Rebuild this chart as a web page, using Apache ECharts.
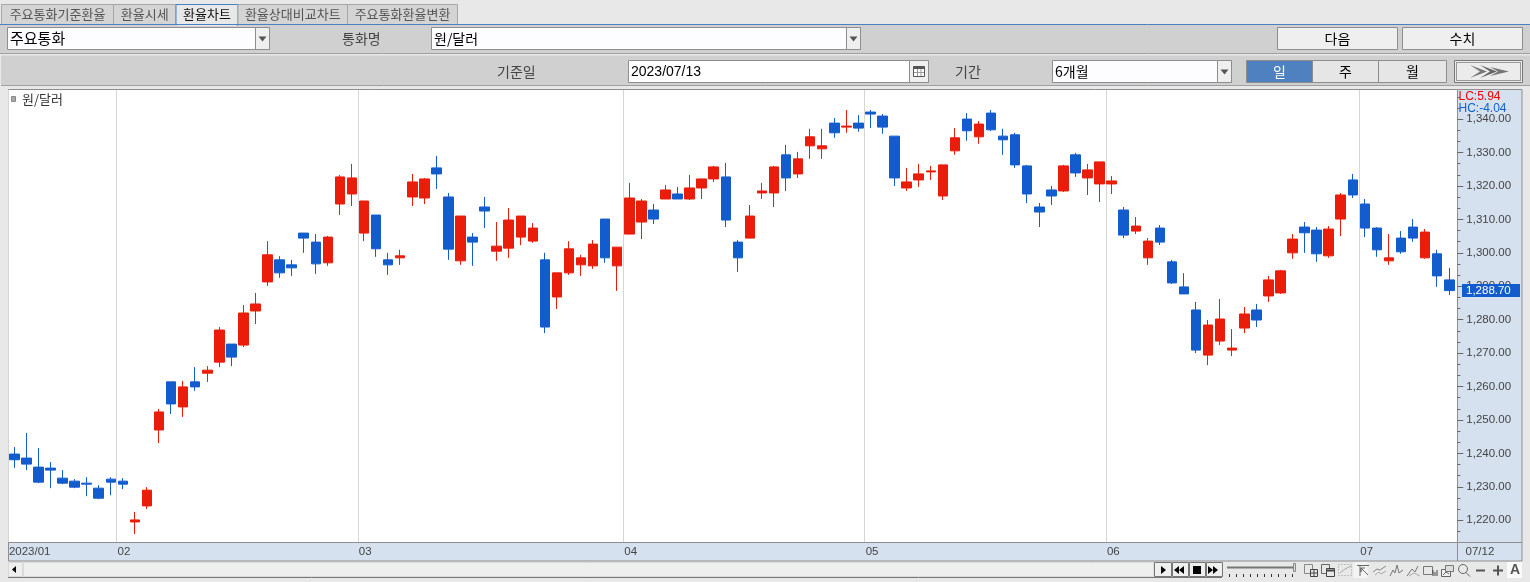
<!DOCTYPE html>
<html>
<head>
<meta charset="utf-8">
<title>환율차트</title>
<style>
html, body { margin: 0; padding: 0; background: #e8e8e8; }
#main { width: 1530px; height: 582px; }
</style>
<script src="https://cdn.jsdelivr.net/npm/echarts@6/dist/echarts.min.js"></script>
</head>
<body>
<div id="main"></div>
<script>
// 원/달러 일봉, values
var opens = [
    1239.8,1238.6,1235.9,1235.6,1232.6,1231.7,1231.1,1229.6,1232.3,1231.7,
    1219.5,1224.3,1247.0,1261.4,1253.9,1261.4,1264.0,1267.3,1272.7,1272.4,
    1282.6,1291.3,1297.9,1296.4,1305.9,1303.2,1297.0,1314.6,1317.6,1305.9,
    1311.3,1297.9,1298.5,1316.7,1316.4,1325.4,1316.7,1297.6,1304.7,1313.7,
    1300.5,1301.4,1304.7,1303.5,1297.9,1286.8,1294.0,1296.4,1296.1,1310.1,
    1296.1,1305.6,1309.2,1312.8,1316.1,1317.6,1316.1,1319.4,1322.1,1322.7,
    1303.2,1304.4,1317.9,1317.9,1329.3,1323.6,1332.0,1331.1,1338.8,1337.6,
    1338.8,1342.1,1340.9,1334.9,1319.4,1321.8,1324.2,1317.0,1330.5,1340.0,
    1334.7,1341.8,1334.9,1335.3,1326.0,1313.7,1318.8,1318.5,1329.3,1322.4,
    1320.6,1320.6,1312.8,1306.5,1298.5,1307.4,1297.3,1289.8,1282.9,1269.4,
    1273.6,1270.9,1277.5,1282.9,1287.1,1288.0,1300.0,1307.7,1306.8,1299.1,
    1310.1,1321.8,1314.6,1307.4,1297.6,1304.4,1307.7,1298.5,1299.7,1291.9
];
var closes = [
    1238.1,1236.8,1231.4,1235.0,1231.1,1229.9,1230.8,1226.6,1231.4,1230.8,
    1220.1,1229.0,1252.4,1254.8,1259.9,1259.9,1264.9,1276.9,1268.8,1282.0,
    1284.7,1299.4,1294.0,1295.5,1304.4,1296.7,1304.7,1322.7,1322.4,1315.5,
    1301.2,1296.4,1299.1,1321.2,1322.1,1323.6,1301.1,1311.0,1303.2,1312.5,
    1302.0,1309.8,1311.0,1307.4,1277.8,1294.0,1301.2,1298.5,1302.6,1298.5,
    1301.7,1316.4,1315.5,1310.1,1318.8,1316.1,1319.4,1322.1,1325.7,1309.8,
    1298.5,1311.0,1318.5,1325.7,1322.4,1328.1,1334.7,1332.0,1335.9,1337.9,
    1337.3,1341.5,1337.6,1322.4,1321.2,1323.6,1324.5,1326.3,1334.4,1336.5,
    1338.5,1336.8,1333.8,1326.3,1317.6,1312.2,1317.0,1326.0,1323.9,1324.8,
    1327.2,1321.5,1305.3,1308.0,1303.5,1303.2,1291.0,1287.7,1270.9,1278.4,
    1280.2,1271.5,1281.7,1279.9,1291.9,1294.6,1304.1,1306.0,1299.7,1307.1,
    1317.3,1317.3,1307.4,1300.9,1298.5,1300.3,1304.4,1306.2,1293.1,1288.7
];
var lows = [
    1235.7,1235.0,1231.1,1229.6,1230.8,1229.6,1227.2,1226.3,1227.5,1229.3,
    1215.9,1223.4,1243.1,1251.8,1250.9,1258.7,1261.4,1265.8,1266.1,1271.8,
    1278.7,1290.1,1292.5,1293.1,1300.0,1293.7,1296.1,1311.3,1314.0,1303.5,
    1298.8,1293.4,1296.4,1314.0,1314.6,1319.1,1297.9,1296.4,1296.1,1307.4,
    1297.6,1298.5,1302.3,1303.0,1276.0,1283.2,1293.4,1293.1,1295.2,1297.0,
    1288.6,1305.6,1304.1,1308.6,1316.1,1316.1,1315.8,1316.1,1321.2,1307.7,
    1294.3,1304.4,1316.1,1313.7,1318.5,1322.4,1328.1,1328.1,1334.4,1335.9,
    1336.2,1337.3,1335.6,1320.0,1318.5,1319.7,1321.8,1315.8,1329.3,1333.5,
    1332.6,1336.4,1329.3,1325.4,1314.9,1307.7,1314.3,1318.2,1322.7,1317.3,
    1315.2,1317.6,1304.4,1305.6,1296.4,1302.3,1290.7,1287.7,1270.0,1266.4,
    1272.4,1269.1,1276.0,1277.8,1285.3,1287.7,1298.2,1300.0,1297.3,1298.5,
    1305.0,1316.4,1304.7,1298.8,1296.4,1299.7,1303.3,1298.2,1289.8,1287.4
];
var highs = [
    1241.9,1246.1,1241.6,1237.4,1235.0,1232.3,1232.9,1230.5,1232.9,1232.6,
    1222.5,1229.9,1253.3,1261.4,1261.7,1265.8,1266.1,1277.8,1272.7,1284.4,
    1288.0,1303.5,1299.0,1297.9,1305.9,1305.6,1305.0,1323.3,1326.6,1315.5,
    1311.3,1300.0,1300.9,1323.6,1322.4,1329.0,1317.9,1311.0,1305.9,1316.7,
    1309.2,1313.4,1311.0,1308.9,1300.0,1294.0,1303.5,1299.4,1303.8,1310.1,
    1301.7,1320.9,1316.1,1314.6,1320.3,1319.7,1323.3,1322.1,1326.0,1326.9,
    1303.8,1314.3,1320.9,1326.0,1332.3,1330.2,1337.1,1337.1,1340.3,1342.7,
    1341.2,1342.7,1341.5,1334.9,1325.4,1326.6,1326.0,1326.3,1337.3,1341.8,
    1339.4,1342.7,1337.1,1335.9,1326.3,1314.9,1320.0,1326.3,1329.9,1326.6,
    1327.2,1323.0,1313.7,1310.7,1304.4,1308.3,1297.9,1293.9,1285.3,1279.9,
    1286.2,1277.2,1283.8,1284.7,1293.1,1294.9,1305.6,1309.2,1307.7,1308.0,
    1317.9,1323.6,1316.1,1307.7,1305.6,1306.5,1310.1,1307.1,1300.9,1295.5
];
var monthStarts = [0, 9, 29, 51, 71, 91, 112];
var monthLabels = ['2023/01', '02', '03', '04', '05', '06', '07'];
var priceTicks = [1220,1230,1240,1250,1260,1270,1280,1290,1300,1310,1320,1330,1340];
var minorTicks = [
    1216.67,1223.33,1226.67,1233.33,1236.67,1243.33,1246.67,1253.33,1256.67,1263.33,1266.67,
    1273.33,1276.67,1283.33,1286.67,1293.33,1296.67,1303.33,1306.67,1313.33,1316.67,1323.33,
    1326.67,1333.33,1336.67,1343.33,1346.67
];
var tabs = ['주요통화기준환율', '환율시세', '환율차트', '환율상대비교차트', '주요통화환율변환'];
var tabEdges = [1, 113, 175.5, 237.5, 347, 457];

var RED = '#ea1c0a', BLUE = '#135ccd', LINE = '#8e8e8e', STRIP = '#d6e1ef', TICK = '#666';
var KR = '"Noto Sans CJK KR", sans-serif';
var NUM = '"Liberation Sans", sans-serif';
var AXIS_MIN = 1213.5, AXIS_MAX = 1348.7;

var candles = opens.map(function (o, i) {
    return [o, closes[i], lows[i], highs[i]];
});

// ---- window chrome helpers ----
var chrome = [];
function rect(x, y, w, h, fill, stroke, z) {
    chrome.push({
        type: 'rect', z: z === undefined ? -5 : z, silent: true,
        shape: { x: x, y: y, width: w, height: h },
        style: { fill: fill || 'transparent', stroke: stroke || null, lineWidth: 1 }
    });
}
function text(x, y, str, color, size, family, align, weight, z) {
    chrome.push({
        type: 'text', z: z === undefined ? -4 : z, silent: true, x: x, y: y,
        style: {
            text: str, fill: color, font: (weight || 'normal') + ' ' + size + 'px ' + (family || KR),
            textAlign: align || 'left', textVerticalAlign: 'middle'
        }
    });
}
function line(points, color, width, dash) {
    chrome.push({
        type: 'polyline', z: -4, silent: true, shape: { points: points },
        style: { stroke: color, lineWidth: width || 1, fill: null, lineDash: dash || null }
    });
}
function poly(points, color) {
    chrome.push({
        type: 'polygon', z: -4, silent: true, shape: { points: points },
        style: { fill: color }
    });
}
function combo(x, x2, btn, y, y2) {
    rect(x, y, x2 - x, y2 - y, '#fdfdff', LINE);
    rect(btn, y, x2 - btn, y2 - y, '#efefef', LINE);
    var c = (btn + x2) / 2, m = (y + y2) / 2;
    poly([[c - 4, m - 2], [c + 4, m - 2], [c, m + 3]], '#555');
}

// background and the two control rows
rect(0, 0, 1530, 582, '#e8e8e8');
rect(0, 25, 1530, 28, '#d0d0d0');
line([[0, 53.5], [1530, 53.5]], '#a0a0a0');
rect(1, 55.5, 1529, 30, '#d0d0d0');
line([[1, 85.5], [1530, 85.5]], '#a0a0a0');

// tabs
line([[0, 24.5], [1530, 24.5]], '#4a80c4');
tabs.forEach(function (t, i) {
    var x = tabEdges[i], x2 = tabEdges[i + 1], on = i === 2;
    rect(x + 0.5, 4.5, x2 - x, on ? 20.5 : 20, on ? '#e8e8e8' : '#d4d4d4', on ? '#4a80c4' : '#a6a6a6');
    text((x + x2) / 2 + 0.5, 14.5, t, on ? '#111' : '#555', 13, KR, 'center');
});
rect(176.5, 24, 60, 2, '#e8e8e8');

// first row
combo(7.5, 269.5, 255.5, 27.5, 49.5);
text(10, 38.5, '주요통화', '#000', 15);
text(342, 38.5, '통화명', '#444', 14);
combo(431.5, 860.5, 846.5, 27.5, 49.5);
text(434, 38.5, '원/달러', '#000', 14);
rect(1277.5, 27.5, 120, 22, '#efefef', LINE);
text(1337.5, 38.5, '다음', '#000', 14, KR, 'center');
rect(1402.5, 27.5, 120, 22, '#efefef', LINE);
text(1462.5, 38.5, '수치', '#000', 14, KR, 'center');

// second row
text(497, 72, '기준일', '#444', 14);
rect(628.5, 60.5, 300, 22, '#fff', LINE);
rect(909.5, 60.5, 19, 22, '#efefef', LINE);
text(631, 72, '2023/07/13', '#000', 14, NUM);
rect(913.5, 66.5, 11, 10, '#fff', '#555');
rect(913.5, 66.5, 11, 2.5, '#555');
line([[917.5, 69], [917.5, 76]], '#999');
line([[921, 69], [921, 76]], '#999');
line([[914, 72.5], [924, 72.5]], '#999');
text(955, 72, '기간', '#444', 14);
combo(1052.5, 1231.5, 1217.5, 60.5, 82.5);
text(1055, 72, '6개월', '#000', 14);
rect(1246.5, 60.5, 66, 22, '#4f81c0', LINE);
rect(1312.5, 60.5, 66, 22, '#e6e6e6', LINE);
rect(1378.5, 60.5, 68, 22, '#e6e6e6', LINE);
text(1279.5, 72, '일', '#fff', 14, KR, 'center');
text(1345.5, 72, '주', '#000', 14, KR, 'center');
text(1412.5, 72, '월', '#000', 14, KR, 'center');
rect(1454.5, 60.5, 68, 22, '#ececec', '#777');
rect(1456.5, 62.5, 64, 18, null, '#444');
chrome[chrome.length - 1].style.lineDash = [1, 1];
poly([[1470, 65], [1487, 71.5], [1470, 78], [1480, 71.5]], '#777');
poly([[1480, 65], [1497, 71.5], [1480, 78], [1490, 71.5]], '#666');
poly([[1490, 67], [1509, 71.5], [1490, 76], [1498, 71.5]], '#777');

// chart frame
rect(8.5, 89.5, 1449, 453, '#fff', LINE);
rect(1457.5, 89.5, 64.5, 453, STRIP, LINE);
rect(8.5, 542.5, 1449, 18.5, STRIP, LINE);
rect(1457.5, 542.5, 64.5, 18.5, STRIP, LINE);
rect(11.5, 96.5, 4, 5, '#a6a6a6', '#8a8a8a', -3);
text(22, 99, '원/달러', '#333', 13, KR, 'left', 'normal', -3);
text(1458.5, 96.5, 'LC:5.94', '#f00000', 12, NUM);
text(1458.5, 109, 'HC:-4.04', '#1060d0', 12, NUM);
text(1465.5, 551.5, '07/12', '#444', 11.5, NUM);

// scrollbar
rect(8.5, 562.5, 14, 14, '#efefef', '#d8d8d8');
poly([[12, 569.5], [16, 566], [16, 573]], '#000');
rect(23.5, 562.5, 1130, 14, '#efefef', '#dcdcdc');
line([[8, 577.5], [1222, 577.5]], '#777');
[1154, 1172, 1189, 1206].forEach(function (x) {
    rect(x + 0.5, 562.5, x === 1154 ? 17 : 16, 14, '#efefef', '#777');
});
poly([[1161, 566], [1166, 570], [1161, 574]], '#000');
poly([[1174, 570], [1179, 566], [1179, 574]], '#000');
poly([[1179, 570], [1184, 566], [1184, 574]], '#000');
rect(1193, 566, 8, 8, '#000');
poly([[1208, 566], [1213, 570], [1208, 574]], '#000');
poly([[1213, 566], [1218, 570], [1213, 574]], '#000');

// speed slider
line([[1227, 567.5], [1293, 567.5]], '#777', 2);
rect(1293.5, 563.5, 2, 8, '#ddd', '#888');
[1229, 1236, 1243, 1250, 1257, 1264, 1271, 1278, 1285, 1292].forEach(function (x) {
    line([[x + 0.5, 574], [x + 0.5, 577]], '#333');
});

// toolbar icons
rect(1304.5, 564.5, 8, 9, null, '#888');
rect(1310.5, 569.5, 7, 7, '#e8e8e8', '#444');
line([[1314, 570], [1314, 576]], '#444');
line([[1311, 573], [1317, 573]], '#444');
rect(1321.5, 564.5, 8, 9, null, '#666');
rect(1326.5, 568.5, 8, 8, '#e8e8e8', '#444');
line([[1327, 570.5], [1334, 570.5]], '#444', 2);
rect(1338.5, 564.5, 13, 11, null, '#999', -4);
chrome[chrome.length - 1].style.lineDash = [1, 2];
line([[1340, 573], [1345, 569], [1351, 566]], '#aaa');
rect(1353.5, 562, 14, 16, '#f4f4f4', null);
line([[1357, 565.5], [1369, 565.5]], '#666');
line([[1360, 566], [1360, 576]], '#666');
line([[1368, 575], [1361, 568], [1361, 572], [1361, 568], [1365, 568]], '#666');
line([[1373, 572], [1377, 569], [1380, 570], [1386, 566]], '#888');
line([[1375, 575], [1379, 572], [1381, 574], [1386, 571]], '#aaa');
line([[1390, 576], [1393, 570], [1395, 573], [1397, 565], [1399, 573], [1403, 570]], '#777');
line([[1407, 576], [1412, 569], [1415, 572], [1418, 566]], '#777');
line([[1409, 576], [1414, 573], [1420, 576]], '#aaa');
rect(1423.5, 566.5, 9, 8, null, '#777');
line([[1433, 570], [1433, 576]], '#444');
line([[1435, 572], [1435, 576]], '#444');
line([[1437, 570], [1437, 576]], '#444');
rect(1441.5, 569.5, 9, 7, '#f0f0f0', '#666');
rect(1445.5, 565.5, 8, 6, '#ddd', '#777');
line([[1443, 575], [1446, 572], [1449, 574]], '#666');
chrome.push({
    type: 'circle', z: -4, silent: true, shape: { cx: 1463, cy: 569, r: 4.5 },
    style: { fill: null, stroke: '#666', lineWidth: 1 }
});
line([[1466, 572.5], [1470, 576.5]], '#666');
rect(1476, 569.5, 9, 2, '#555');
rect(1493, 569.5, 10, 2, '#555');
rect(1497, 565.5, 2, 10, '#555');
rect(1507, 562, 15, 16, '#fafafa');
text(1515, 570.5, 'A', '#555', 14, NUM, 'center', 'bold');

// last price tag sits over the axis labels
rect(1462, 284, 58, 13, BLUE, null, 10);
text(1466, 290.8, '1,288.70', '#fff', 11.5, NUM, 'left', 'normal', 11);

var main = document.getElementById('main');
var myChart = echarts.init(main, null, { renderer: 'canvas' });

var option = {
    animation: false,
    graphic: { elements: chrome },
    // second grid only carries the month lines and the minor price ticks
    grid: [
        { left: 8.3, right: 74.7, top: 90, bottom: 40 },
        { left: 7.9, width: 1448, top: 90, bottom: 40 }
    ],
    xAxis: [{
        type: 'category',
        gridIndex: 0,
        show: false,
        boundaryGap: true,
        data: opens.map(function (o, i) { return i; })
    }, {
        type: 'value',
        gridIndex: 1,
        position: 'bottom',
        min: 0,
        max: opens.length,
        axisLine: { show: false, onZero: false },
        axisTick: { show: false, customValues: monthStarts },
        axisLabel: {
            customValues: monthStarts,
            margin: 4,
            align: 'left',
            padding: [0, 0, 0, 1],
            color: '#444',
            fontFamily: 'Liberation Sans',
            fontSize: 11.5,
            formatter: function (v) {
                return monthLabels[monthStarts.indexOf(v)];
            }
        },
        splitLine: { show: true, lineStyle: { color: '#d6d6d6', width: 1 } }
    }],
    yAxis: [{
        type: 'value',
        gridIndex: 0,
        position: 'right',
        offset: 2,
        z: 5,
        min: AXIS_MIN,
        max: AXIS_MAX,
        axisLine: { show: false, onZero: false },
        axisTick: { show: true, length: 6, customValues: priceTicks, lineStyle: { color: TICK, width: 1 } },
        axisLabel: {
            customValues: priceTicks,
            margin: 9,
            color: '#444',
            fontFamily: 'Liberation Sans',
            fontSize: 11.5,
            formatter: function (v) {
                return v.toLocaleString('en-US', { minimumFractionDigits: 2, maximumFractionDigits: 2 });
            }
        },
        splitLine: { show: false }
    }, {
        type: 'value',
        gridIndex: 1,
        position: 'right',
        offset: 1.5,
        z: 5,
        min: AXIS_MIN,
        max: AXIS_MAX,
        axisLine: { show: false, onZero: false },
        axisTick: { show: true, length: 3, customValues: minorTicks, lineStyle: { color: TICK, width: 1 } },
        axisLabel: { show: false },
        splitLine: { show: false }
    }],
    series: [{
        name: '원/달러',
        type: 'candlestick',
        xAxisIndex: 0,
        yAxisIndex: 0,
        barWidth: 10,
        data: candles,
        itemStyle: {
            color: RED,
            color0: BLUE,
            borderColor: RED,
            borderColor0: BLUE,
            borderWidth: 1
        }
    }]
};

myChart.setOption(option);
</script>
</body>
</html>
